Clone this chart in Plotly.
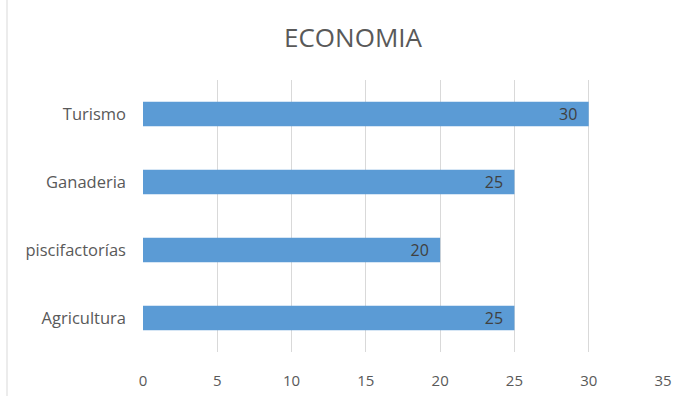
import plotly.graph_objects as go

categories = ["Agricultura", "piscifactorías", "Ganaderia", "Turismo"]
values = [25, 20, 25, 30]
x_ticks = [0, 5, 10, 15, 20, 25, 30, 35]

fig = go.Figure(go.Bar(
    y=categories, x=values, orientation="h",
    marker=dict(color="#5B9BD5", line=dict(width=0)),
    text=[f"{v}\u00a0\u00a0" for v in values],
    textposition="inside", insidetextanchor="end",
    constraintext="none",
    textfont=dict(family="Open Sans", size=16, color="#404040"),
    cliponaxis=False,
))

fig.update_layout(
    width=687, height=396,
    margin=dict(l=143, r=24, t=80, b=44),
    paper_bgcolor="white", plot_bgcolor="white",
    title=dict(text="ECONOMIA", x=353/687, xanchor="center", y=1 - 38/396, yanchor="middle",
               xref="container", yref="container",
               font=dict(family="Open Sans", size=26, color="#595959")),
    bargap=0.64,
    showlegend=False,
    font=dict(family="Open Sans", color="#595959"),
    shapes=[dict(type="line", xref="paper", yref="paper",
                 x0=(7 - 143) / 520, x1=(7 - 143) / 520, y0=-44/272, y1=1 + 80/272,
                 line=dict(color="#d9d9d9", width=1))],
)
fig.update_xaxes(range=[0, 35], tickvals=x_ticks, showgrid=True, gridcolor="#d9d9d9",
                 gridwidth=1, zeroline=False, showline=False, automargin=False,
                 tickfont=dict(family="Open Sans", size=15, color="#595959"),
                 ticklabelstandoff=18)
fig.update_yaxes(showgrid=False, zeroline=False, showline=False, automargin=False,
                 tickfont=dict(family="Open Sans", size=16.5, color="#595959"),
                 ticklabelstandoff=16)

fig.write_html("out.html", post_script="document.body.style.margin='0';",
               config={"displayModeBar": False})
